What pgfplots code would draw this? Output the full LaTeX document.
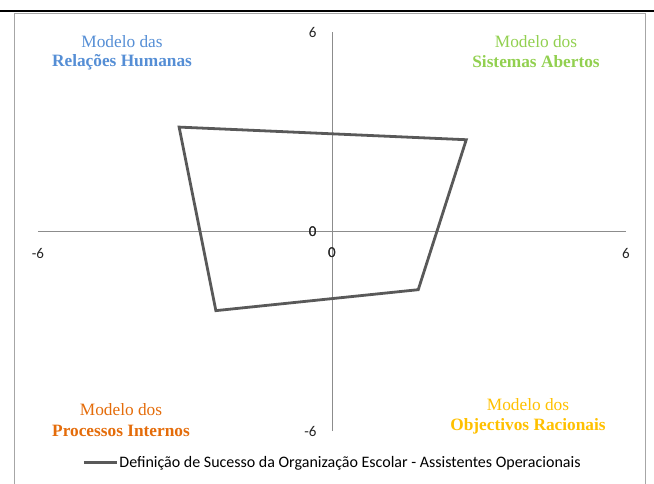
\documentclass[border=0pt]{standalone}
\usepackage{pgfplots}
\pgfplotsset{compat=1.18}
\usepackage{fontspec}
\setmainfont{Carlito}
\newfontfamily\serif{Liberation Serif}
\definecolor{qblue}{HTML}{558ED5}
\definecolor{qgreen}{HTML}{92D050}
\definecolor{qorange}{HTML}{E46C0A}
\definecolor{qgold}{HTML}{FFC000}
\definecolor{axgray}{HTML}{8C8C8C}
\definecolor{lgray}{HTML}{595959}
\definecolor{bordergray}{HTML}{A6A6A6}
\begin{document}
\begin{tikzpicture}
\begin{axis}[at={(0pt,0pt)}, anchor=south west, scale only axis,
  width=588pt, height=399pt,
  xmin=-6, xmax=6, ymin=-6, ymax=6,
  axis lines=middle,
  axis line style={draw=axgray, line width=0.8pt, -},
  xtick={-6,0,6}, ytick={-6,0,6},
  hide obscured x ticks=false, hide obscured y ticks=false,
  extra x ticks={0}, extra y ticks={0},
  extra tick style={major tick length=0pt},
  major tick length=0pt,
  tick label style={font=\fontsize{15}{17}\selectfont, text=black!85},
  /pgf/number format/assume math mode=true,
  xticklabel style={anchor=north, yshift=-13pt},
  yticklabel style={anchor=east, xshift=-12pt},
  legend style={at={(0.5,-0.08)}, anchor=center, draw=none, fill=none,
    font=\fontsize{16}{18}\selectfont, nodes={inner sep=1pt}},
  legend image code/.code={\draw[#1, line width=3pt] (0pt,0pt) -- (33pt,0pt);},
  clip=false]
\addplot[color=lgray, line width=2.8pt, line join=miter] coordinates {(-3.12,3.14) (2.74,2.76) (1.76,-1.75) (-2.37,-2.38) (-3.12,3.14) (2.74,2.76)};
\addlegendentry{Definição de Sucesso da Organização Escolar - Assistentes Operacionais}
\end{axis}
\begin{scope}[x=1pt, y=1pt, shift={(-38pt,-52pt)}]
\draw[black, line width=2pt] (0,471.5) -- (654,471.5);
\draw[bordergray, line width=1.2pt] (14.5,-2) -- (14.5,469.5) -- (645.5,469.5) -- (645.5,-2);
\begin{scope}[every node/.style={font=\serif\fontsize{17.3}{19}\selectfont, inner sep=0pt, anchor=center}]
\node[text=qblue] at (122,441) {Modelo das};
\node[text=qblue] at (122,421) {\bfseries Relações Humanas};
\node[text=qgreen] at (536,441) {Modelo dos};
\node[text=qgreen] at (536,421) {\bfseries Sistemas Abertos};
\node[text=qorange] at (121,73) {Modelo dos};
\node[text=qorange] at (121,52) {\bfseries Processos Internos};
\node[text=qgold] at (528,78) {Modelo dos};
\node[text=qgold] at (528,57) {\bfseries Objectivos Racionais};
\end{scope}
\pgfresetboundingbox
\path[use as bounding box] (0,0) rectangle (654,483);
\end{scope}
\end{tikzpicture}
\end{document}
